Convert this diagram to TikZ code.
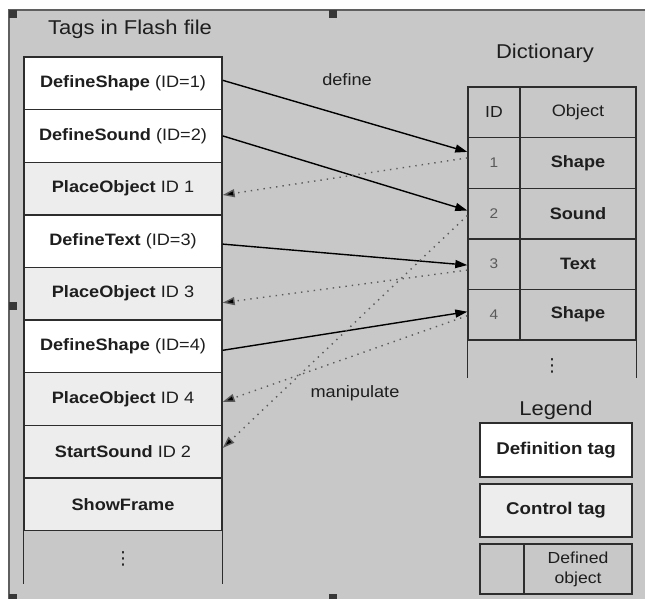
\documentclass[tikz,border=0pt]{standalone}
\usepackage{fontspec}
\setmainfont{Liberation Sans}[FakeStretch=1.1]
\newfontfamily\dejavu{DejaVu Sans}
\usetikzlibrary{arrows.meta,calc}
\definecolor{bg}{RGB}{200,200,200}
\definecolor{lite}{RGB}{237,237,237}
\definecolor{linec}{RGB}{45,45,45}
\definecolor{txt}{RGB}{30,30,30}
\definecolor{dotc}{RGB}{90,90,90}
\definecolor{handle}{RGB}{55,55,55}
\begin{document}
\begin{tikzpicture}[x=1pt,y=-1pt,
  cell/.style={draw=linec, line width=1.4pt, inner sep=0pt, text=txt,
    font=\fontsize{16.5}{19}\selectfont},
  row/.style={cell, minimum width=198pt, minimum height=52.6pt},
  defrow/.style={row, fill=white},
  ctlrow/.style={row, fill=lite},
  idcell/.style={cell, minimum width=52pt, minimum height=50.6pt, text=dotc,
    font=\fontsize{14}{16}\selectfont},
  objcell/.style={cell, minimum width=116pt, minimum height=50.6pt},
  title/.style={text=txt, font=\fontsize{20}{22}\selectfont, inner sep=0pt, anchor=base},
  lbl/.style={text=txt, font=\fontsize{16.5}{19}\selectfont, inner sep=0pt},
  legbox/.style={cell, minimum width=152pt, font=\fontsize{17}{19}\selectfont},
  more/.style={text=txt, inner sep=0pt, font=\dejavu\fontsize{18}{20}\selectfont},
  deflink/.style={line width=1.4pt, draw=black, -{Triangle[length=12pt,width=8pt]}},
  uselink/.style={line width=1.4pt, draw=dotc, dash pattern=on 1.4pt off 5pt,
    -{Triangle[length=12pt,width=8pt,fill=black]}},
  hnd/.style={fill=handle, draw=none}
]
\useasboundingbox (0,0) rectangle (645,599);
\fill[white] (0,0) rectangle (645,599);
\fill[bg] (9,10) rectangle (645,599);
\draw[line width=1.5pt, draw=handle!80] (645,10) -- (9,10) -- (9,599);

% titles
\node[title] (t1) at (130,35) {Tags in Flash file};
\node[title] (t2) at (545,59) {Dictionary};
\node[title] (t3) at (556,415) {Legend};

% left column
\node[defrow] (r1) at (123,83.3) {\textbf{DefineShape} (ID=1)};
\node[defrow] (r2) at (123,135.9) {\textbf{DefineSound} (ID=2)};
\node[ctlrow] (r3) at (123,188.5) {\textbf{PlaceObject} ID 1};
\node[defrow] (r4) at (123,241.1) {\textbf{DefineText} (ID=3)};
\node[ctlrow] (r5) at (123,293.7) {\textbf{PlaceObject} ID 3};
\node[defrow] (r6) at (123,346.3) {\textbf{DefineShape} (ID=4)};
\node[ctlrow] (r7) at (123,398.9) {\textbf{PlaceObject} ID 4};
\node[ctlrow] (r8) at (123,451.5) {\textbf{StartSound} ID 2};
\node[ctlrow] (r9) at (123,504.1) {\textbf{ShowFrame}};
\coordinate (r10nw) at ($(r9.south west)+(0,52.6)$);
\coordinate (r10ne) at ($(r9.south east)+(0,52.6)$);
\draw[draw=linec, line width=1.4pt] (r9.south west) -- (r10nw);
\draw[draw=linec, line width=1.4pt] (r9.south east) -- (r10ne);
\node[more] (r10) at (123,559) {⋮};

% dictionary
\node[idcell, text=txt, font=\fontsize{16}{18}\selectfont] (dh) at (494,112.3) {ID};
\node[objcell] (oh) at (578,112.3) {Object};
\node[idcell] (d1) at (494,162.9) {1};
\node[objcell] (o1) at (578,162.9) {\textbf{Shape}};
\node[idcell] (d2) at (494,213.5) {2};
\node[objcell] (o2) at (578,213.5) {\textbf{Sound}};
\node[idcell] (d3) at (494,264.1) {3};
\node[objcell] (o3) at (578,264.1) {\textbf{Text}};
\node[idcell] (d4) at (494,314.7) {4};
\node[objcell] (o4) at (578,314.7) {\textbf{Shape}};
\coordinate (dlw) at ($(d4.south west)+(0,37)$);
\coordinate (dle) at ($(o4.south east)+(0,37)$);
\draw[draw=linec, line width=1.4pt] (d4.south west) -- (dlw);
\draw[draw=linec, line width=1.4pt] (o4.south east) -- (dle);
\node[more] (dl) at (552,366) {⋮};

% legend
\node[legbox, fill=white, minimum height=54pt] (lg1) at (556,450) {\textbf{Definition tag}};
\node[legbox, fill=lite, minimum height=53pt] (lg2) at (556,510.5) {\textbf{Control tag}};
\node[cell, minimum width=44pt, minimum height=50pt] (lg3a) at (502,569) {};
\node[cell, minimum width=108pt, minimum height=50pt, align=center,
  font=\fontsize{16}{20}\selectfont] (lg3b) at (578,569) {Defined\\object};

% labels
\node[lbl] (ldef) at (347,80) {define};
\node[lbl] (lman) at (355,393) {manipulate};

% define arrows
\draw[deflink] ($(r1.east)+(0,-3)$) -- ($(d1.west)+(0,-11)$);
\draw[deflink] ($(r2.east)+(0,0)$) -- ($(d2.west)+(0,-3)$);
\draw[deflink] ($(r4.east)+(0,3)$) -- ($(d3.west)+(0,1)$);
\draw[deflink] ($(r6.east)+(0,4)$) -- ($(d4.west)+(0,-3)$);

% manipulate arrows
\draw[uselink] ($(d1.west)+(0,-5)$) -- ($(r3.east)+(0,6.5)$);
\draw[uselink] ($(d3.west)+(0,6)$) -- ($(r5.east)+(0,9)$);
\draw[uselink] ($(d4.west)+(0,1)$) -- ($(r7.east)+(0,3)$);
\draw[uselink] ($(d2.west)+(0,2)$) -- ($(r8.east)+(0,-3.5)$);

% selection handles
\fill[hnd] (9,10) rectangle (17,18);
\fill[hnd] (329,10) rectangle (337,18);
\fill[hnd] (9,302) rectangle (17,310);
\fill[hnd] (9,594) rectangle (17,599);
\fill[hnd] (329,594) rectangle (337,599);
\end{tikzpicture}
\end{document}
